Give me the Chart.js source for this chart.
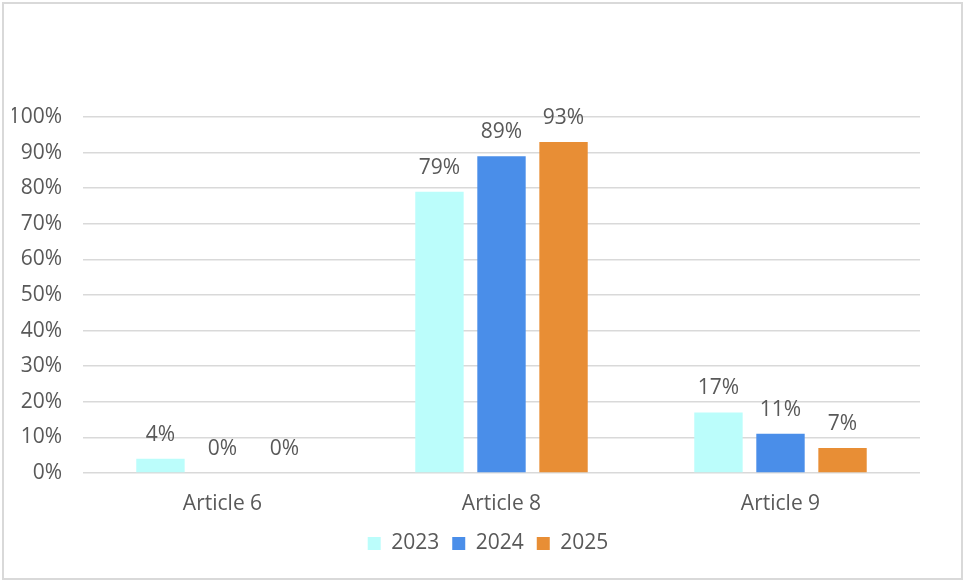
<!DOCTYPE html>
<html>
<head>
<meta charset="utf-8">
<script src="https://cdn.jsdelivr.net/npm/chart.js@4/dist/chart.umd.min.js"></script>
<style>
  html, body { margin: 0; padding: 0; background: #fff; }
  #wrap { position: relative; width: 964px; height: 581px; }
  #frame {
    position: absolute; left: 2px; top: 2px; width: 961px; height: 578px;
    box-sizing: border-box; border: 2px solid #d9d9d9; pointer-events: none;
  }
</style>
</head>
<body>
<div id="wrap">
  <canvas id="chart"></canvas>
  <div id="frame"></div>
</div>
<script>
"use strict";

const CATEGORIES = ["Article 6", "Article 8", "Article 9"];
const YEARS = ["2023", "2024", "2025"];
const SHARE_2023 = [0.04, 0.79, 0.17];
const SHARE_2024 = [0.00, 0.89, 0.11];
const SHARE_2025 = [0.00, 0.93, 0.07];

const COLORS = ["#bbfdfb", "#4a8ee9", "#e88e35"];
const TEXT = "#595959";
const FONT = { family: "'Open Sans', sans-serif", size: 21 };

const pct = (v) => Math.round(v * 100) + "%";

// value labels above each bar
const barLabels = {
  id: "barLabels",
  afterDatasetsDraw(chart) {
    const ctx = chart.ctx;
    ctx.save();
    ctx.font = FONT.size + "px " + FONT.family;
    ctx.fillStyle = TEXT;
    ctx.textAlign = "center";
    ctx.textBaseline = "alphabetic";
    chart.data.datasets.forEach((ds, i) => {
      chart.getDatasetMeta(i).data.forEach((bar, j) => {
        ctx.fillText(pct(ds.data[j]), bar.x, bar.y - 18);
      });
    });
    ctx.restore();
  },
};

new Chart(document.getElementById("chart"), {
  type: "bar",
  data: {
    labels: CATEGORIES,
    datasets: [SHARE_2023, SHARE_2024, SHARE_2025].map((d, i) => ({
      label: YEARS[i],
      data: d,
      backgroundColor: COLORS[i],
      borderWidth: 0,
      categoryPercentage: 0.667,
      barPercentage: 0.78,
    })),
  },
  options: {
    responsive: true,
    maintainAspectRatio: false,
    animation: false,
    layout: { padding: { left: 12, right: 0, top: 117, bottom: 17 } },
    plugins: {
      tooltip: { enabled: false },
      legend: {
        position: "bottom",
        labels: {
          color: TEXT,
          font: FONT,
          boxWidth: 13,
          boxHeight: 13,
          padding: 13,
        },
      },
    },
    scales: {
      x: {
        grid: { display: false },
        border: { display: false },
        ticks: { color: TEXT, font: FONT, padding: 10 },
        afterFit: (s) => { s.height = 47; },
      },
      y: {
        min: 0,
        max: 1,
        ticks: { stepSize: 0.1, color: TEXT, font: FONT, padding: 21, callback: (v) => pct(v) },
        grid: { color: "#d9d9d9", lineWidth: 1.5, drawTicks: false },
        border: { display: false },
        afterFit: (s) => { s.width = 71; },
      },
      // empty right-hand gutter
      gutter: {
        position: "right",
        grid: { display: false },
        border: { display: false },
        ticks: { display: false },
        afterFit: (s) => { s.width = 44; },
      },
    },
  },
  plugins: [barLabels],
});
</script>
</body>
</html>
